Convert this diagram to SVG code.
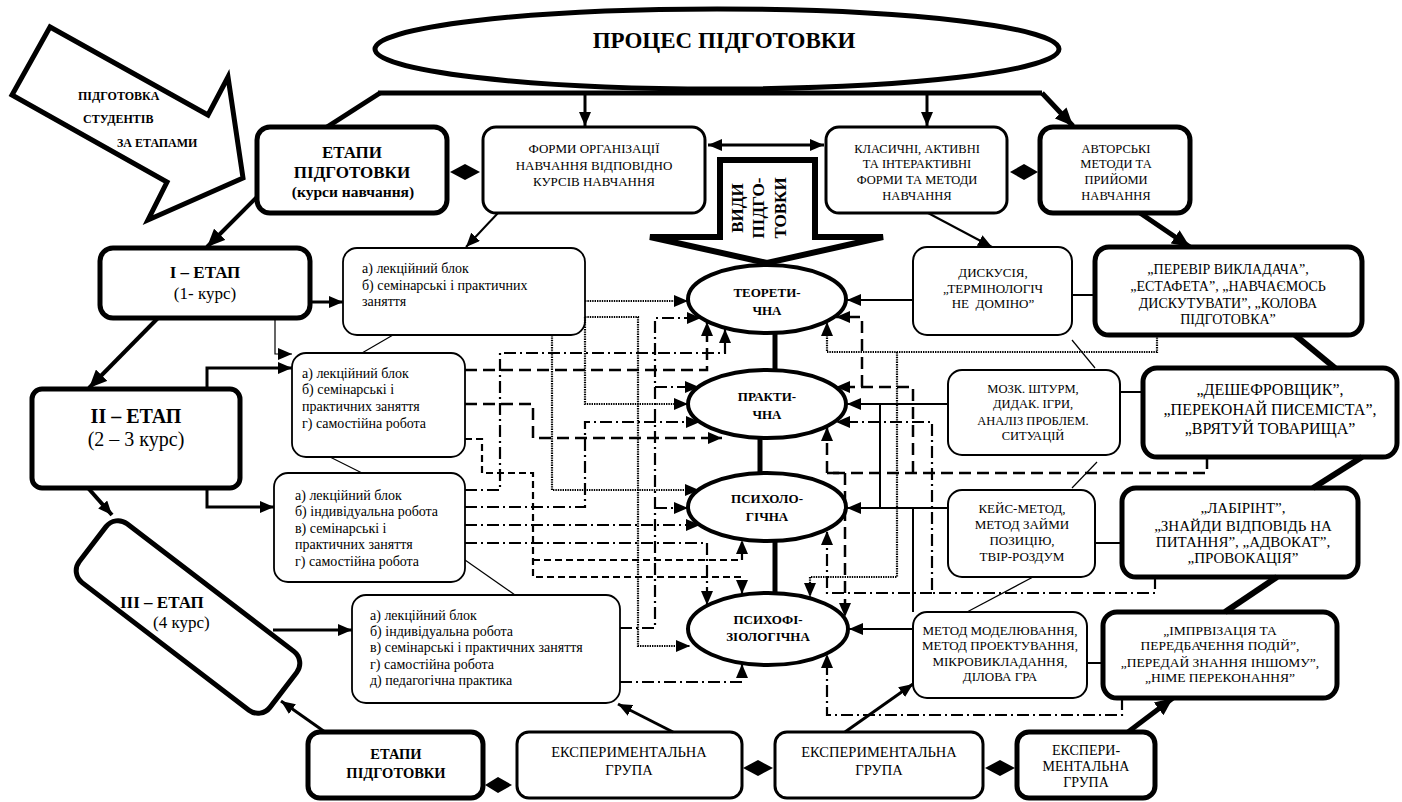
<svg xmlns="http://www.w3.org/2000/svg" width="1402" height="802" viewBox="0 0 1402 802">
<style>
.t{font-family:"Liberation Serif","Times New Roman",serif;fill:#000}
.b{font-weight:bold}
.m{text-anchor:middle}
.thick{fill:#fff;stroke:#000;stroke-width:5}
.med{fill:#fff;stroke:#000;stroke-width:3}
.thin{fill:#fff;stroke:#000;stroke-width:1.8}
.ell{fill:#fff;stroke:#000;stroke-width:4}
.c{fill:none;stroke:#000}
.s1{stroke-width:1.2}
.s2{stroke-width:2}
.s3{stroke-width:3}
.s4{stroke-width:4}
.s5{stroke-width:5}
.s6{stroke-width:6}
.dot{stroke-width:2.2;stroke-dasharray:1.4 1}
.dash{stroke-width:2.5;stroke-dasharray:12 6}
.sdash{stroke-width:2.2;stroke-dasharray:7 4}
.dd{stroke-width:2.2;stroke-dasharray:12 4 2 4}
.dia{fill:#000;stroke:none}
</style>
<defs>
<marker id="ah" markerUnits="userSpaceOnUse" markerWidth="14" markerHeight="12" refX="14" refY="6" orient="auto-start-reverse"><path d="M0,0 L14,6 L0,12 z" fill="#000"/></marker>
<marker id="ahb" markerUnits="userSpaceOnUse" markerWidth="18" markerHeight="16" refX="18" refY="8" orient="auto"><path d="M0,0 L18,8 L0,16 z" fill="#000"/></marker>
</defs>

<g id="proces">
<ellipse class="ell" cx="717" cy="49" rx="342" ry="40" style="stroke-width:5"/>
<text class="t b m" x="724" y="48" font-size="23">ПРОЦЕС ПІДГОТОВКИ</text>
</g>

<g id="pidgotovka-arrow">
<polygon points="50,27 12,95 167,182 148,220 243,178 228,77 208,115" fill="#fff" stroke="#000" stroke-width="5" stroke-linejoin="miter"/>
<text class="t b" x="78" y="100" font-size="12">ПІДГОТОВКА</text>
<text class="t b" x="83" y="123" font-size="12">СТУДЕНТІВ</text>
<text class="t b" x="117" y="147" font-size="12">ЗА ЕТАПАМИ</text>
</g>

<g id="etapy-top">
<rect class="thick" x="257" y="127" width="190" height="86" rx="13"/>
<text class="t b m" x="352" y="158" font-size="17">ЕТАПИ</text>
<text class="t b m" x="352" y="178" font-size="17">ПІДГОТОВКИ</text>
<text class="t b m" x="353" y="197" font-size="15.5">(курси навчання)</text>
</g>

<g id="formy">
<rect class="med" x="483" y="127" width="222" height="86" rx="13"/>
<text class="t m" x="594" y="153" font-size="13">ФОРМИ ОРГАНІЗАЦІЇ</text>
<text class="t m" x="594" y="170" font-size="13">НАВЧАННЯ ВІДПОВІДНО</text>
<text class="t m" x="594" y="186" font-size="13">КУРСІВ НАВЧАННЯ</text>
</g>

<g id="klasychni">
<rect class="med" x="826" y="127" width="181" height="86" rx="13"/>
<text class="t m" x="917" y="153" font-size="12.5">КЛАСИЧНІ, АКТИВНІ</text>
<text class="t m" x="917" y="168" font-size="12.5">ТА ІНТЕРАКТИВНІ</text>
<text class="t m" x="917" y="184" font-size="12.5">ФОРМИ ТА МЕТОДИ</text>
<text class="t m" x="917" y="200" font-size="12.5">НАВЧАННЯ</text>
</g>

<g id="avtorski">
<rect class="thick" x="1040" y="127" width="150" height="86" rx="13"/>
<text class="t m" x="1116" y="153" font-size="12.5">АВТОРСЬКІ</text>
<text class="t m" x="1116" y="168" font-size="12.5">МЕТОДИ ТА</text>
<text class="t m" x="1116" y="184" font-size="12.5">ПРИЙОМИ</text>
<text class="t m" x="1116" y="200" font-size="12.5">НАВЧАННЯ</text>
</g>

<g id="vydy">
<polygon points="720,160 815,160 815,237 883,237 767,263 650,237 720,237" fill="#fff" stroke="#000" stroke-width="6" stroke-linejoin="miter"/>
<text class="t b m" font-size="17" transform="translate(743,208) rotate(-90)"><tspan x="0" y="0">ВИДИ</tspan><tspan x="0" y="21">ПІДГО-</tspan><tspan x="0" y="43">ТОВКИ</tspan></text>
</g>

<g id="etap1">
<rect class="thick" x="100" y="248" width="210" height="70" rx="13"/>
<text class="t b m" x="205" y="278" font-size="17">І – ЕТАП</text>
<text class="t m" x="205" y="299" font-size="17">(1- курс)</text>
</g>

<g id="etap2">
<rect class="thick" x="32" y="389" width="208" height="99" rx="10"/>
<text class="t b m" x="136" y="423" font-size="20">ІІ – ЕТАП</text>
<text class="t m" x="136" y="446" font-size="20">(2 – 3 курс)</text>
</g>

<g id="etap3">
<rect class="thick" x="-120" y="-37" width="240" height="74" rx="15" transform="translate(188,617) rotate(37.4)"/>
<text class="t b" x="120" y="608" font-size="17">ІІІ – ЕТАП</text>
<text class="t" x="153" y="628" font-size="17">(4 курс)</text>
</g>

<g id="forms1">
<rect class="thin" x="343" y="248" width="242" height="87" rx="14"/>
<text class="t" x="362" y="273" font-size="14">а) лекційний блок</text>
<text class="t" x="362" y="290" font-size="14">б) семінарські і практичних</text>
<text class="t" x="362" y="306" font-size="14">заняття</text>
</g>

<g id="forms2a">
<rect class="thin" x="292" y="353" width="173" height="104" rx="14"/>
<text class="t" x="302" y="378" font-size="14">а) лекційний блок</text>
<text class="t" x="302" y="394" font-size="14">б) семінарські і</text>
<text class="t" x="302" y="411" font-size="14">практичних заняття</text>
<text class="t" x="302" y="428" font-size="14">г) самостійна робота</text>
</g>

<g id="forms2b">
<rect class="thin" x="274" y="473" width="191" height="109" rx="14"/>
<text class="t" x="295" y="500" font-size="14">а) лекційний блок</text>
<text class="t" x="295" y="516" font-size="14">б) індивідуальна робота</text>
<text class="t" x="295" y="533" font-size="14">в) семінарські і</text>
<text class="t" x="295" y="549" font-size="14">практичних заняття</text>
<text class="t" x="295" y="566" font-size="14">г) самостійна робота</text>
</g>

<g id="forms3">
<rect class="thin" x="352" y="595" width="268" height="108" rx="14"/>
<text class="t" x="370" y="620" font-size="14">а) лекційний блок</text>
<text class="t" x="370" y="636" font-size="14">б) індивідуальна робота</text>
<text class="t" x="370" y="652" font-size="14">в) семінарські і практичних заняття</text>
<text class="t" x="370" y="669" font-size="14">г) самостійна робота</text>
<text class="t" x="370" y="685" font-size="14">д) педагогічна практика</text>
</g>

<g id="teor">
<ellipse class="ell" cx="767" cy="299" rx="79" ry="34"/>
<text class="t b m" x="767" y="297" font-size="13">ТЕОРЕТИ-</text>
<text class="t b m" x="767" y="315" font-size="13">ЧНА</text>
</g>
<g id="prakt">
<ellipse class="ell" cx="767" cy="404" rx="79" ry="34"/>
<text class="t b m" x="767" y="401" font-size="13">ПРАКТИ-</text>
<text class="t b m" x="767" y="419" font-size="13">ЧНА</text>
</g>
<g id="psykh">
<ellipse class="ell" cx="767" cy="507" rx="79" ry="34"/>
<text class="t b m" x="767" y="503" font-size="13">ПСИХОЛО-</text>
<text class="t b m" x="767" y="521" font-size="13">ГІЧНА</text>
</g>
<g id="psykhofiz">
<ellipse class="ell" cx="768" cy="629" rx="80" ry="36"/>
<text class="t b m" x="768" y="624" font-size="13">ПСИХОФІ-</text>
<text class="t b m" x="768" y="641" font-size="13">ЗІОЛОГІЧНА</text>
</g>

<g id="dyskusiia">
<rect class="thin" x="913" y="247" width="159" height="88" rx="14" style="stroke-width:2"/>
<text class="t m" x="993" y="277" font-size="13">ДИСКУСІЯ,</text>
<text class="t m" x="993" y="293" font-size="13">„ТЕРМІНОЛОГІЧ</text>
<text class="t m" x="993" y="308" font-size="13" xml:space="preserve">НЕ  ДОМІНО”</text>
</g>

<g id="perevir">
<rect class="thick" x="1095" y="247" width="267" height="88" rx="14"/>
<text class="t m" x="1228" y="274" font-size="14">„ПЕРЕВІР ВИКЛАДАЧА”,</text>
<text class="t m" x="1228" y="291" font-size="14">„ЕСТАФЕТА”, „НАВЧАЄМОСЬ</text>
<text class="t m" x="1228" y="308" font-size="14">ДИСКУТУВАТИ”, „КОЛОВА</text>
<text class="t m" x="1228" y="324" font-size="14">ПІДГОТОВКА”</text>
</g>

<g id="mozk">
<rect class="thin" x="948" y="370" width="172" height="85" rx="14" style="stroke-width:2"/>
<text class="t m" x="1033" y="393" font-size="12.5">МОЗК. ШТУРМ,</text>
<text class="t m" x="1033" y="408" font-size="12.5">ДИДАК. ІГРИ,</text>
<text class="t m" x="1033" y="425" font-size="12.5">АНАЛІЗ ПРОБЛЕМ.</text>
<text class="t m" x="1033" y="440" font-size="12.5">СИТУАЦІЙ</text>
</g>

<g id="deshef">
<rect class="thick" x="1143" y="368" width="254" height="89" rx="14"/>
<text class="t m" x="1270" y="395" font-size="16">„ДЕШЕФРОВЩИК”,</text>
<text class="t m" x="1270" y="415" font-size="16">„ПЕРЕКОНАЙ ПИСЕМІСТА”,</text>
<text class="t m" x="1270" y="434" font-size="16">„ВРЯТУЙ ТОВАРИЩА”</text>
</g>

<g id="keis">
<rect class="thin" x="948" y="490" width="147" height="87" rx="14" style="stroke-width:2"/>
<text class="t m" x="1022" y="513" font-size="13">КЕЙС-МЕТОД,</text>
<text class="t m" x="1022" y="529" font-size="13">МЕТОД ЗАЙМИ</text>
<text class="t m" x="1022" y="545" font-size="13">ПОЗИЦІЮ,</text>
<text class="t m" x="1022" y="561" font-size="13">ТВІР-РОЗДУМ</text>
</g>

<g id="labirint">
<rect class="thick" x="1122" y="488" width="236" height="89" rx="14"/>
<text class="t m" x="1243" y="513" font-size="15">„ЛАБІРІНТ”,</text>
<text class="t m" x="1243" y="531" font-size="15">„ЗНАЙДИ ВІДПОВІДЬ НА</text>
<text class="t m" x="1243" y="547" font-size="15">ПИТАННЯ”, „АДВОКАТ”,</text>
<text class="t m" x="1243" y="563" font-size="15">„ПРОВОКАЦІЯ”</text>
</g>

<g id="model">
<rect class="thin" x="913" y="612" width="174" height="86" rx="14" style="stroke-width:2"/>
<text class="t m" x="1000" y="635" font-size="13">МЕТОД МОДЕЛЮВАННЯ,</text>
<text class="t m" x="1000" y="650" font-size="13">МЕТОД ПРОЕКТУВАННЯ,</text>
<text class="t m" x="1000" y="666" font-size="13">МІКРОВИКЛАДАННЯ,</text>
<text class="t m" x="1000" y="681" font-size="13">ДІЛОВА ГРА</text>
</g>

<g id="improv">
<rect class="thick" x="1103" y="612" width="234" height="86" rx="14"/>
<text class="t m" x="1220" y="635" font-size="13.5">„ІМПРВІЗАЦІЯ ТА</text>
<text class="t m" x="1220" y="650" font-size="13.5">ПЕРЕДБАЧЕННЯ ПОДІЙ”,</text>
<text class="t m" x="1220" y="667" font-size="13.5">„ПЕРЕДАЙ ЗНАННЯ ІНШОМУ”,</text>
<text class="t m" x="1220" y="682" font-size="13.5">„НІМЕ ПЕРЕКОНАННЯ”</text>
</g>

<g id="etapy-bottom">
<rect class="thick" x="308" y="732" width="175" height="66" rx="12"/>
<text class="t b m" x="396" y="759" font-size="14.5">ЕТАПИ</text>
<text class="t b m" x="396" y="778" font-size="14.5">ПІДГОТОВКИ</text>
</g>

<g id="eksp1">
<rect class="med" x="517" y="732" width="225" height="66" rx="12"/>
<text class="t m" x="629" y="757" font-size="14.5">ЕКСПЕРИМЕНТАЛЬНА</text>
<text class="t m" x="629" y="775" font-size="14.5">ГРУПА</text>
</g>

<g id="eksp2">
<rect class="med" x="775" y="732" width="208" height="66" rx="12"/>
<text class="t m" x="879" y="757" font-size="14.5">ЕКСПЕРИМЕНТАЛЬНА</text>
<text class="t m" x="879" y="775" font-size="14.5">ГРУПА</text>
</g>

<g id="eksp3">
<rect class="thick" x="1017" y="732" width="138" height="66" rx="12"/>
<text class="t m" x="1086" y="755" font-size="14">ЕКСПЕРИ-</text>
<text class="t m" x="1086" y="771" font-size="14">МЕНТАЛЬНА</text>
<text class="t m" x="1086" y="787" font-size="14">ГРУПА</text>
</g>

<g id="connectors">
<path class="c s5" d="M378,93 H1042"/>
<path class="c s5" d="M380,93 L327,127"/>
<path class="c s3" d="M585,93 V126" marker-end="url(#ah)"/>
<path class="c s3" d="M927,93 V126" marker-end="url(#ah)"/>
<path class="c s5" d="M1042,93 L1073,126" marker-end="url(#ahb)"/>
<path class="c s3" d="M708,145 H824" marker-start="url(#ah)" marker-end="url(#ah)"/>
<polygon class="dia" points="450,172 465,164 480,172 465,180"/>
<polygon class="dia" points="1010,172 1024,164 1038,172 1024,180"/>
<path class="c s4" d="M257,197 L207,247" marker-end="url(#ahb)"/>
<path class="c s4" d="M158,318 L89,388" marker-end="url(#ahb)"/>
<path class="c s4" d="M88,488 L112,515" marker-end="url(#ah)"/>
<path class="c s3" d="M325,732 L281,701" marker-end="url(#ah)"/>
<path class="c s2" d="M498,213 L466,247" marker-end="url(#ah)"/>
<path class="c s2" d="M928,213 L992,247" marker-end="url(#ah)"/>
<path class="c s5" d="M1140,213 L1190,247" marker-end="url(#ahb)"/>
<path class="c s3" d="M310,302 H343" marker-end="url(#ah)"/>
<path class="c s1" d="M275,318 V354 H292" marker-end="url(#ah)"/>
<path class="c s3" d="M207,389 V368 H292" marker-end="url(#ah)"/>
<path class="c s3" d="M207,488 V507 H274" marker-end="url(#ah)"/>
<path class="c s3" d="M273,630 H352" marker-end="url(#ah)"/>
<path class="c s1" d="M393,335 L362,353"/>
<path class="c s1" d="M330,457 L362,473"/>
<path class="c s1" d="M465,560 L515,595"/>
<path class="c s5" d="M775,333 V370"/>
<path class="c s5" d="M760,438 V473"/>
<path class="c s5" d="M775,541 V593"/>
<path class="c s2" d="M913,300 H847" marker-end="url(#ah)"/>
<path class="c s2" d="M1072,295 H1095"/>
<path class="c s2" d="M948,404 H847" marker-end="url(#ah)"/>
<path class="c s2" d="M1120,392 H1143"/>
<path class="c s2" d="M948,508 H847" marker-end="url(#ah)"/>
<path class="c s2" d="M1095,543 H1122"/>
<path class="c s2" d="M913,629 H849" marker-end="url(#ah)"/>
<path class="c s2" d="M1087,663 H1103"/>
<path class="c s2" d="M880,404 V508"/>
<path class="c s2" d="M913,508 V612"/>
<path class="c s1" d="M1072,340 L1095,368"/>
<path class="c s1" d="M1097,462 L1072,488"/>
<path class="c s1" d="M1033,577 L967,612"/>
<path class="c s6" d="M1295,335 L1335,368"/>
<path class="c s6" d="M1362,457 L1313,488"/>
<path class="c s6" d="M1277,577 L1225,612"/>
<polygon class="dia" points="485,785 498,777 512,785 498,793"/>
<polygon class="dia" points="743,768 758,760 773,768 758,776"/>
<polygon class="dia" points="985,768 1000,760 1015,768 1000,776"/>
<path class="c s3" d="M673,732 L618,704" marker-end="url(#ah)"/>
<path class="c s3" d="M845,732 L913,684" marker-end="url(#ah)"/>
<path class="c s5" d="M1128,732 L1173,698" marker-end="url(#ahb)"/>
<path class="c dot" d="M585,301 H688" marker-end="url(#ah)"/>
<path class="c dot" d="M585,317 H638 V646 H690" marker-end="url(#ah)"/>
<path class="c dot" d="M585,317 V404 H688" marker-end="url(#ah)"/>
<path class="c dot" d="M552,335 V490 H699" marker-end="url(#ah)"/>
<path class="c dash" d="M465,370 H707 V322" marker-end="url(#ah)"/>
<path class="c dash" d="M465,404 H533 V438 H722" marker-end="url(#ah)"/>
<path class="c sdash" d="M465,439 H482 V473 H533 V577 H742 V594" marker-end="url(#ah)"/>
<path class="c sdash" d="M533,560 H742 V540" marker-end="url(#ah)"/>
<path class="c dd" d="M465,490 H500 V353 H725 V329" marker-end="url(#ah)"/>
<path class="c dd" d="M465,507 H585 V422 H700" marker-end="url(#ah)"/>
<path class="c dd" d="M620,628 H655 V318 H701" marker-end="url(#ah)"/>
<path class="c dd" d="M655,387 H699" marker-end="url(#ah)"/>
<path class="c dd" d="M655,508 H688" marker-end="url(#ah)"/>
<path class="c dd" d="M465,525 H700" marker-end="url(#ah)"/>
<path class="c dd" d="M465,543 H707 V605" marker-end="url(#ah)"/>
<path class="c dd" d="M620,682 H742 V664" marker-end="url(#ah)"/>
<path class="c dot" d="M1157,335 V352 H827 V322" marker-end="url(#ah)"/>
<path class="c dot" d="M897,352 V577 H810 V597" marker-end="url(#ah)"/>
<path class="c dash" d="M1207,457 V473 H827 V427" marker-end="url(#ah)"/>
<path class="c dash" d="M913,473 V387 H836" marker-end="url(#ah)"/>
<path class="c dash" d="M862,387 V317 H836" marker-end="url(#ah)"/>
<path class="c dash" d="M827,473 H845 V617" marker-end="url(#ah)"/>
<path class="c dd" d="M1155,577 V593 H932 V422 H836" marker-end="url(#ah)"/>
<path class="c dd" d="M932,593 H827 V531" marker-end="url(#ah)"/>
<path class="c dd" d="M1122,698 V715 H827 V654" marker-end="url(#ah)"/>
</g>
</svg>
